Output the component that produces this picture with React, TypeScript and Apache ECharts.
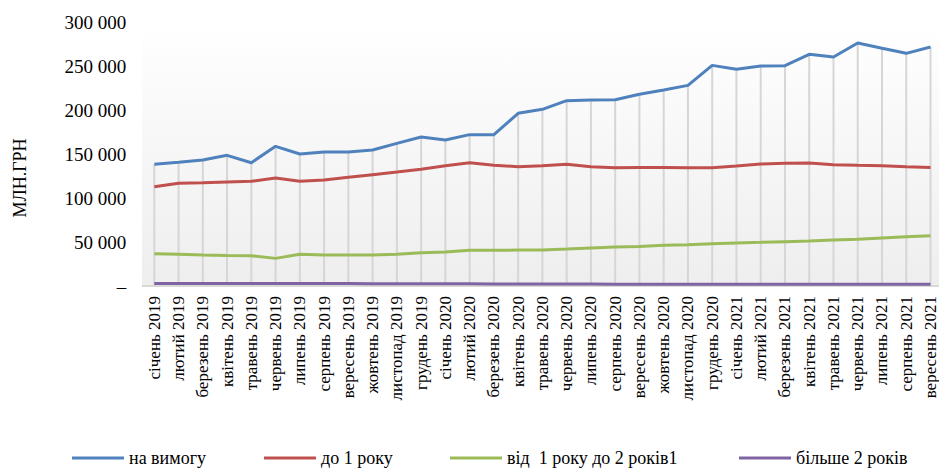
import React, { useEffect, useRef } from "react";
import * as echarts from "echarts";

const categories = [
  "січень 2019", "лютий 2019", "березень 2019", "квітень 2019", "травень 2019", "червень 2019",
  "липень 2019", "серпень 2019", "вересень 2019", "жовтень 2019", "листопад 2019", "грудень 2019",
  "січень 2020", "лютий 2020", "березень 2020", "квітень 2020", "травень 2020", "червень 2020",
  "липень 2020", "серпень 2020", "вересень 2020", "жовтень 2020", "листопад 2020", "грудень 2020",
  "січень 2021", "лютий 2021", "березень 2021", "квітень 2021", "травень 2021", "червень 2021",
  "липень 2021", "серпень 2021", "вересень 2021",
];

const seriesNames = ["на вимогу", "до 1 року", "від  1 року до 2 років1", "більше 2 років"];

const onDemand = [138300, 140500, 143200, 148500, 140100, 158700, 150000, 152300, 152300, 154500, 162100, 169300, 165900, 172000, 172000, 196200, 200800, 210600, 211400, 211700, 217800, 222700, 228000, 250700, 246200, 250000, 250400, 263300, 260200, 276100, 270100, 264400, 271600];
const upTo1Year = [112900, 116700, 117400, 118200, 119000, 122700, 119000, 120500, 123500, 126500, 129500, 132600, 136700, 140100, 137100, 135600, 136700, 138300, 135600, 134500, 134800, 134800, 134500, 134500, 136300, 138600, 139400, 139800, 137900, 137100, 136700, 135600, 134800];
const from1To2Years = [36700, 36000, 35200, 34800, 34500, 31400, 36000, 35200, 35200, 35200, 36000, 37900, 38600, 40500, 40500, 40900, 40900, 42000, 43200, 44300, 45000, 46200, 47000, 48100, 48900, 49600, 50400, 51100, 52300, 53000, 54500, 56000, 57200];
const over2Years = [2900, 2900, 2900, 2900, 2900, 2900, 2700, 2700, 2700, 2600, 2500, 2600, 2600, 2500, 2400, 2300, 2300, 2300, 2200, 2100, 2000, 2000, 2000, 2000, 2000, 2000, 2000, 2000, 2000, 2100, 2100, 2000, 2000];

const colors = ["#4F81BD", "#C0504D", "#9BBB59", "#8064A2"];
const legendLefts = [72, 264, 450, 739];
const FONT = "'Liberation Serif', 'Times New Roman', serif";

function fmt(v: number): string {
  if (v === 0) return "–";
  return String(v).replace(/\B(?=(\d{3})+(?!\d))/g, " ");
}

export default function App() {
  const ref = useRef<HTMLDivElement>(null);
  useEffect(() => {
    if (!ref.current) return;
    const chart = echarts.init(ref.current, null, { renderer: "svg" });
    const values = [onDemand, upTo1Year, from1To2Years, over2Years];
    chart.setOption({
      animation: false,
      backgroundColor: "#ffffff",
      textStyle: { fontFamily: FONT },
      graphic: [
        {
          type: "rect",
          z: -10,
          silent: true,
          shape: { x: 142, y: 22, width: 797, height: 264 },
          style: {
            fill: new echarts.graphic.LinearGradient(0, 0, 0, 1, [
              { offset: 0, color: "#ffffff" },
              { offset: 1, color: "#eeeeee" },
            ]),
          },
        },
        {
          type: "line",
          z: -5,
          silent: true,
          shape: { x1: 142, y1: 286, x2: 939, y2: 286 },
          style: { stroke: "#d9d9d9", lineWidth: 2 },
        },
        {
          type: "text",
          x: 20,
          y: 178,
          rotation: Math.PI / 2,
          style: {
            text: "МЛН.ГРН",
            fontFamily: FONT,
            fontSize: 18,
            fill: "#000000",
            align: "center",
            verticalAlign: "middle",
          },
        },
      ],
      legend: seriesNames.map((n, i) => ({
        data: [n],
        left: legendLefts[i],
        top: 449,
        padding: 0,
        icon: "rect",
        itemWidth: 52,
        itemHeight: 3,
        selectedMode: false,
        textStyle: { fontFamily: FONT, fontSize: 18, color: "#000000" },
      })),
      grid: { left: 154.3, right: 7.3, top: 22, height: 264, containLabel: false },
      xAxis: {
        type: "category",
        data: categories,
        boundaryGap: false,
        axisLine: { show: false },
        axisTick: { show: false },
        splitLine: { show: false },
        axisLabel: {
          interval: 0,
          rotate: 90,
          margin: 10,
          fontFamily: FONT,
          fontSize: 17,
          color: "#000000",
        },
      },
      yAxis: {
        type: "value",
        min: 0,
        max: 300000,
        interval: 50000,
        axisLine: { show: false },
        axisTick: { show: false },
        splitLine: { show: false },
        axisLabel: {
          margin: 28,
          fontFamily: FONT,
          fontSize: 19,
          color: "#000000",
          formatter: (v: number) => fmt(v),
        },
      },
      series: [
        {
          type: "bar",
          name: "drop",
          data: onDemand,
          barWidth: 2,
          silent: true,
          z: 1,
          itemStyle: { color: "#d6d6d6" },
        },
        ...values.map((d, i) => ({
          type: "line",
          name: seriesNames[i],
          data: d,
          symbol: "none",
          z: 3 + (3 - i),
          color: colors[i],
          lineStyle: { width: 3, color: colors[i] },
        })),
      ],
    });
    return () => chart.dispose();
  }, []);
  return (
    <div
      ref={ref}
      style={{ position: "absolute", left: 0, top: 0, width: 939, height: 468 }}
    />
  );
}
